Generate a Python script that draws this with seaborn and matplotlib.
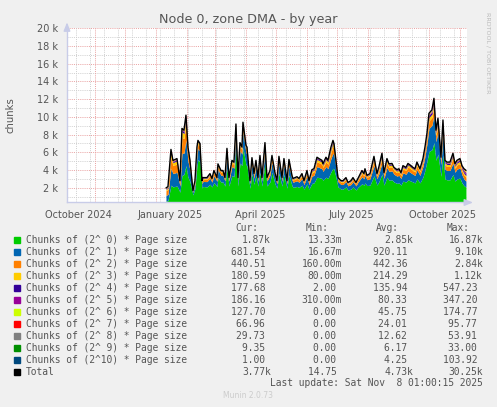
import numpy as np
import pandas as pd
import matplotlib
matplotlib.use('Agg')
import matplotlib.pyplot as plt
import matplotlib.dates as mdates
from matplotlib.patches import Rectangle
import seaborn as sns

start = pd.Timestamp('2025-01-11')
days = [0, 2, 5, 7, 11, 12, 14, 16, 18, 20,
        22, 24, 26, 27, 29, 31, 32, 34, 36, 37,
        41, 44, 46, 48, 51, 52, 55, 57, 59, 61,
        63, 66, 68, 70, 72, 74, 76, 77, 80, 81,
        84, 86, 88, 90, 92, 94, 96, 99, 101, 104,
        106, 109, 111, 113, 116, 118, 121, 123, 126, 127,
        131, 133, 136, 138, 141, 143, 146, 148, 151, 153,
        156, 157, 160, 162, 165, 167, 168, 170, 172, 175,
        177, 180, 182, 185, 187, 190, 192, 196, 198, 199,
        201, 204, 208, 211, 213, 216, 218, 221, 223, 226,
        228, 231, 233, 235, 237, 240, 242, 245, 247, 249,
        251, 254, 257, 259, 261, 263, 266, 268, 270, 272,
        275, 277, 279, 281, 284, 287, 289, 291, 294, 296, 298, 300]

o0 = [500, 550, 2300, 2100, 2200, 2000, 1500, 3400, 3500, 4500,
      3200, 2700, 1700, 1200, 1900, 4500, 5200, 4900, 1950, 2150,
      2100, 2400, 2100, 2600, 2150, 3150, 2650, 2650, 2200, 4200,
      2200, 3400, 3250, 6400, 2200, 4800, 4500, 6500, 4600, 4500,
      1950, 3600, 2400, 3400, 2200, 3750, 2200, 4800, 2200, 2650,
      3750, 2450, 1950, 3650, 2200, 3500, 1950, 3450, 2250, 2050,
      2150, 2050, 2300, 1850, 2450, 1850, 2500, 2550, 3200, 3150,
      3050, 2850, 3200, 3050, 3800, 4200, 4100, 3200, 2100, 1850,
      1850, 2100, 1750, 1850, 2100, 1750, 2050, 2450, 2300, 2550,
      2250, 2300, 3350, 2300, 2700, 3550, 2300, 3200, 2850, 2900,
      2650, 2500, 2550, 2300, 2750, 2650, 2900, 2750, 2650, 2550,
      3000, 2550, 3200, 4000, 5000, 6100, 6300, 7100, 5100, 5800,
      3300, 5700, 3000, 2900, 2900, 3500, 2755, 3000, 3100, 2550, 2250, 2070]
o1 = [650, 700, 1900, 1500, 1550, 1250, 700, 2500, 2400, 2900,
      1800, 1300, 620, 280, 520, 1200, 1250, 1200, 500, 560,
      600, 680, 540, 760, 580, 900, 760, 760, 560, 1300,
      560, 1000, 960, 1700, 560, 1400, 1300, 1800, 1350, 1300,
      500, 1050, 680, 1000, 560, 1100, 560, 1400, 560, 760,
      1100, 720, 500, 1100, 560, 1050, 500, 1020, 660, 580,
      640, 580, 720, 520, 800, 520, 820, 850, 1200, 1150,
      1100, 1000, 1200, 1100, 1500, 1700, 1600, 1050, 600, 520,
      520, 600, 470, 520, 600, 470, 580, 800, 720, 850,
      660, 720, 1150, 720, 900, 1250, 750, 1100, 1000, 1000,
      880, 820, 850, 750, 930, 880, 1000, 930, 880, 850,
      1020, 850, 1200, 1550, 1950, 2600, 2750, 3100, 2100, 2500,
      1300, 2450, 1100, 1050, 1050, 1280, 1000, 1100, 1150, 900, 750, 682]
o2 = [520, 560, 1300, 900, 950, 800, 400, 1800, 1650, 1800,
      1000, 700, 300, 120, 230, 550, 550, 540, 210, 250,
      260, 300, 240, 340, 250, 400, 340, 340, 240, 580,
      240, 430, 420, 650, 240, 550, 500, 650, 520, 500,
      210, 460, 300, 430, 240, 480, 240, 550, 240, 340,
      480, 320, 210, 470, 240, 450, 210, 440, 290, 250,
      270, 250, 330, 240, 380, 240, 390, 400, 550, 530,
      510, 460, 550, 510, 700, 780, 730, 480, 260, 240,
      240, 260, 210, 240, 260, 210, 250, 380, 330, 400,
      290, 330, 550, 330, 420, 580, 350, 520, 460, 460,
      410, 390, 400, 350, 440, 410, 460, 440, 410, 400,
      480, 400, 450, 530, 630, 850, 880, 980, 680, 800,
      440, 780, 480, 460, 460, 560, 450, 480, 500, 450, 440, 441]
o3 = [150, 160, 450, 330, 350, 280, 120, 600, 570, 600,
      380, 250, 110, 50, 90, 220, 220, 220, 80, 100,
      105, 120, 90, 140, 100, 160, 130, 130, 90, 230,
      90, 170, 165, 260, 90, 210, 190, 270, 200, 190,
      80, 180, 120, 170, 90, 190, 90, 210, 90, 130,
      190, 125, 80, 190, 90, 180, 80, 175, 115, 100,
      110, 100, 140, 100, 170, 100, 180, 185, 260, 250,
      240, 215, 260, 240, 320, 360, 330, 210, 105, 100,
      100, 105, 90, 100, 105, 90, 100, 170, 140, 185,
      115, 140, 250, 140, 190, 270, 160, 240, 215, 215,
      190, 180, 185, 160, 200, 190, 215, 200, 190, 185,
      220, 185, 200, 230, 270, 380, 390, 430, 300, 350,
      190, 340, 230, 220, 220, 270, 220, 230, 240, 200, 190, 181]
o4 = [60, 70, 170, 120, 120, 90, 40, 200, 190, 220,
      130, 90, 40, 18, 35, 80, 80, 80, 35, 50,
      50, 60, 42, 65, 45, 60, 45, 45, 40, 90,
      40, 65, 65, 110, 40, 85, 75, 110, 80, 75,
      35, 70, 60, 65, 40, 80, 40, 85, 40, 45,
      80, 50, 35, 80, 40, 75, 35, 75, 50, 42,
      45, 42, 60, 50, 80, 50, 85, 90, 130, 125,
      120, 105, 130, 120, 150, 165, 150, 95, 50, 50,
      50, 50, 42, 50, 50, 42, 42, 80, 60, 90,
      50, 60, 125, 60, 95, 135, 75, 120, 105, 105,
      95, 85, 90, 75, 100, 95, 105, 100, 95, 90,
      110, 90, 110, 130, 150, 220, 225, 240, 160, 190,
      105, 185, 130, 125, 125, 150, 130, 130, 140, 150, 170, 178]
o5 = [40, 40, 110, 70, 70, 40, 20, 110, 110, 110,
      55, 35, 18, 7, 15, 30, 30, 35, 15, 22,
      22, 25, 18, 28, 15, 20, 15, 15, 12, 32,
      12, 22, 25, 48, 12, 35, 25, 45, 32, 25,
      15, 25, 25, 22, 12, 30, 12, 35, 12, 15,
      30, 20, 15, 35, 12, 28, 15, 25, 22, 18,
      20, 18, 28, 22, 40, 22, 42, 43, 60, 55,
      50, 45, 60, 50, 70, 80, 50, 40, 22, 22,
      22, 22, 20, 22, 22, 20, 18, 40, 28, 43,
      22, 28, 70, 28, 50, 65, 35, 65, 45, 45,
      45, 42, 43, 35, 45, 45, 45, 45, 45, 43,
      45, 43, 70, 80, 80, 120, 125, 130, 90, 110,
      60, 105, 80, 75, 75, 80, 75, 80, 85, 140, 180, 186]
o6 = [30, 25, 50, 30, 30, 20, 10, 50, 45, 40,
      20, 15, 7, 3, 6, 12, 12, 15, 6, 10,
      8, 9, 6, 10, 6, 6, 5, 5, 4, 12,
      4, 8, 9, 20, 4, 12, 6, 15, 10, 6,
      6, 9, 9, 8, 4, 12, 4, 12, 4, 5,
      12, 10, 6, 14, 4, 10, 6, 9, 8, 6,
      8, 6, 12, 10, 15, 10, 17, 18, 26, 22,
      18, 15, 26, 18, 30, 35, 22, 15, 8, 10,
      10, 8, 9, 10, 8, 9, 6, 15, 12, 18,
      8, 12, 30, 12, 25, 28, 15, 30, 15, 15,
      18, 17, 18, 15, 18, 18, 15, 18, 18, 18,
      15, 18, 40, 45, 40, 70, 70, 60, 40, 55,
      30, 50, 45, 40, 40, 35, 45, 45, 50, 70, 110, 128]
o7 = [15, 12, 25, 15, 15, 10, 5, 20, 20, 18,
      8, 6, 3, 1, 2, 5, 5, 6, 2, 4,
      3, 3, 2, 4, 2, 2, 2, 2, 2, 4,
      2, 3, 4, 7, 2, 4, 2, 6, 4, 2,
      2, 3, 3, 3, 2, 4, 2, 4, 2, 2,
      4, 3, 2, 6, 2, 4, 2, 3, 3, 2,
      3, 2, 5, 4, 7, 4, 8, 8, 12, 10,
      7, 6, 12, 7, 15, 16, 10, 6, 3, 4,
      4, 3, 4, 4, 3, 4, 2, 7, 5, 8,
      3, 5, 14, 5, 10, 12, 7, 13, 6, 6,
      7, 8, 8, 7, 8, 7, 6, 8, 7, 8,
      5, 8, 17, 20, 17, 32, 32, 32, 17, 25,
      14, 22, 18, 16, 16, 15, 16, 18, 20, 25, 40, 67]
o8 = [8, 7, 14, 8, 8, 5, 3, 12, 10, 7,
      4, 2, 1, 1, 1, 2, 2, 3, 1, 2,
      1, 1, 1, 2, 1, 1, 1, 1, 1, 1,
      1, 1, 1, 3, 1, 2, 1, 2, 2, 1,
      1, 1, 1, 1, 1, 2, 1, 2, 1, 1,
      2, 1, 1, 3, 1, 1, 1, 1, 1, 1,
      2, 1, 2, 2, 4, 2, 4, 4, 6, 5,
      3, 2, 6, 3, 8, 8, 5, 2, 1, 2,
      2, 1, 2, 2, 1, 2, 1, 4, 2, 4,
      1, 2, 6, 2, 5, 5, 4, 6, 2, 2,
      3, 4, 4, 4, 4, 3, 2, 4, 3, 4,
      2, 4, 8, 9, 8, 15, 15, 15, 8, 11,
      6, 10, 9, 7, 7, 6, 6, 9, 9, 10, 14, 30]
o9 = [4, 4, 6, 4, 4, 3, 1, 5, 3, 3,
      2, 1, 1, 0, 1, 1, 1, 1, 1, 1,
      1, 1, 1, 1, 1, 1, 1, 1, 1, 1,
      1, 1, 1, 1, 1, 1, 1, 1, 1, 1,
      1, 1, 1, 1, 1, 1, 1, 1, 1, 1,
      1, 1, 1, 1, 1, 1, 1, 1, 1, 1,
      1, 1, 1, 1, 2, 1, 2, 2, 3, 3,
      1, 1, 3, 1, 4, 4, 2, 1, 1, 1,
      1, 1, 1, 1, 1, 1, 1, 2, 1, 2,
      1, 1, 3, 1, 3, 3, 2, 3, 1, 1,
      1, 2, 2, 2, 2, 1, 1, 2, 1, 2,
      2, 2, 3, 4, 3, 7, 7, 7, 3, 5,
      3, 5, 5, 4, 4, 3, 2, 5, 4, 4, 5, 9]
o10 = [3, 2, 5, 3, 3, 2, 1, 3, 2, 2,
       1, 1, 0, 0, 0, 0, 0, 0, 0, 1,
       0, 1, 0, 0, 0, 0, 1, 1, 0, 0,
       0, 0, 0, 1, 0, 1, 0, 1, 1, 0,
       0, 1, 1, 0, 0, 1, 0, 1, 0, 1,
       1, 0, 0, 1, 0, 1, 0, 1, 0, 0,
       1, 0, 2, 1, 2, 1, 2, 0, 3, 0,
       1, 1, 3, 1, 3, 2, 1, 1, 0, 1,
       1, 0, 2, 1, 0, 2, 0, 2, 2, 0,
       0, 2, 2, 2, 2, 2, 2, 3, 1, 1,
       1, 2, 0, 2, 3, 1, 1, 3, 1, 0,
       1, 0, 2, 2, 2, 6, 6, 6, 2, 4,
       2, 3, 3, 3, 3, 1, 1, 3, 2, 1, 1, 1]

series = [o0, o1, o2, o3, o4, o5, o6, o7, o8, o9, o10]
names = ['Chunks of (2^%2d) * Page size' % i for i in range(11)] + ['Total']
colors = ['#00CC00', '#0066B3', '#FF8000', '#FFCC00', '#330099', '#990099',
          '#CCFF00', '#FF0000', '#808080', '#008F00', '#00487D', '#000000']

cur = ['1.87k', '681.54', '440.51', '180.59', '177.68', '186.16',
       '127.70', '66.96', '29.73', '9.35', '1.00', '3.77k']
vmin = ['13.33m', '16.67m', '160.00m', '80.00m', '2.00', '310.00m',
        '0.00', '0.00', '0.00', '0.00', '0.00', '14.75']
avg = ['2.85k', '920.11', '442.36', '214.29', '135.94', '80.33',
       '45.75', '24.01', '12.62', '6.17', '4.25', '4.73k']
vmax = ['16.87k', '9.10k', '2.84k', '1.12k', '547.23', '347.20',
        '174.77', '95.77', '53.91', '33.00', '103.92', '30.25k']

yticks = [2000, 4000, 6000, 8000, 10000, 12000, 14000, 16000, 18000, 20000]
ytick_labels = ['2 k', '4 k', '6 k', '8 k', '10 k', '12 k', '14 k', '16 k', '18 k', '20 k']
xtick_dates = ['2024-10-15', '2025-01-15', '2025-04-15', '2025-07-15', '2025-10-15']
xtick_labels = ['October 2024', 'January 2025', 'April 2025', 'July 2025', 'October 2025']

# --- figure ---
sns.set_style('white')
plt.rcParams['font.family'] = ['DejaVu Sans']

W, H = 497, 407
fig = plt.figure(figsize=(W / 100, H / 100), dpi=100, facecolor='#F0F0F0')


def fx(x):
    return x / W


def fy(y):
    return 1 - y / H


ax = fig.add_axes([fx(67), fy(202.5), 400 / W, 174.2 / H])
ax.set_facecolor('white')

dates = start + pd.to_timedelta(days, unit='D')
tl0 = pd.Timestamp('2024-10-04 01:00')
tl1 = pd.Timestamp('2025-11-08 01:00')
ax.set_xlim(tl0, tl1)
ax.set_ylim(340, 20000)

major_c = '#e9a0a0'
minor_c = '#cfcfcf'
dot = (0, (1, 1.2))
for v in range(1000, 20001, 2000):
    ax.axhline(v, color=minor_c, lw=0.7, ls=dot, zorder=0)
for v in yticks:
    ax.axhline(v, color=major_c, lw=0.7, ls=dot, zorder=0)
for d in pd.date_range('2024-10-13', tl1, freq='14D'):
    ax.axvline(d, color=minor_c, lw=0.7, ls=dot, zorder=0)
months = pd.date_range('2024-11-01', tl1, freq='MS')
for d in months:
    ax.axvline(d, color=major_c, lw=0.7, ls=dot, zorder=0)

ax.stackplot(dates, *series, colors=colors[:11], linewidth=0, zorder=2)
total = np.sum(np.array(series), axis=0)
sns.lineplot(x=dates, y=total, color='black', linewidth=1.0, ax=ax,
             estimator=None, sort=False, zorder=3)

for side in ['top', 'right']:
    ax.spines[side].set_visible(False)
for side in ['left', 'bottom']:
    ax.spines[side].set_color('#c8cce8')
    ax.spines[side].set_linewidth(1)
ax.annotate('', xy=(0, 1.05), xytext=(0, 0.99), xycoords='axes fraction',
            arrowprops=dict(arrowstyle='-|>,head_length=0.5,head_width=0.2',
                            color='#c8cce8', lw=1), annotation_clip=False)
ax.annotate('', xy=(1.022, 0), xytext=(0.99, 0), xycoords='axes fraction',
            arrowprops=dict(arrowstyle='-|>,head_length=0.5,head_width=0.2',
                            color='#c8cce8', lw=1), annotation_clip=False)

ax.set_yticks(yticks)
ax.set_yticklabels(ytick_labels)
ax.set_xticks(pd.to_datetime(xtick_dates))
ax.set_xticklabels(xtick_labels)
ax.set_xticks(months, minor=True)
ax.tick_params(axis='y', length=2.5, width=0.7, color=major_c, pad=4,
               labelsize=7, labelcolor='#555555')
ax.tick_params(axis='x', which='major', length=0, pad=5.5,
               labelsize=7, labelcolor='#555555')
ax.tick_params(axis='x', which='minor', length=2.5, width=0.7, color=major_c)
ax.set_xlabel('')
ax.set_ylabel('')

fig.text(fx(248), fy(19), 'Node 0, zone DMA - by year', ha='center', va='center',
         fontsize=9.2, color='#555555')
fig.text(fx(11), fy(115), 'chunks', rotation=90, ha='center', va='center',
         fontsize=7.3, color='#555555')
fig.text(fx(488), fy(53), 'RRDTOOL / TOBI OETIKER', rotation=270, ha='center',
         va='center', fontsize=4.6, color='#bbbbbb')

# --- legend ---
mono = dict(family='DejaVu Sans Mono', fontsize=6.9, color='#555555', va='center')
for x, h in zip([235, 306, 376, 447], ['Cur:', 'Min:', 'Avg:', 'Max:']):
    fig.text(fx(x), fy(227.7), h, ha='left', **mono)


def fmt(s):
    return s if s[-1] in 'km' else s + ' '


for i, name in enumerate(names):
    y = 239.7 + 12 * i
    fig.patches.append(Rectangle((fx(14), fy(y + 3)), 6 / W, 6 / H,
                                 transform=fig.transFigure, color=colors[i]))
    fig.text(fx(26.3), fy(y), name, ha='left', **mono)
    for x, col in zip([271, 342, 413, 483], [cur, vmin, avg, vmax]):
        fig.text(fx(x), fy(y), fmt(col[i]), ha='right', **mono)

fig.text(fx(483), fy(383.3), 'Last update: Sat Nov  8 01:00:15 2025', ha='right', **mono)
fig.text(fx(248), fy(396), 'Munin 2.0.73', ha='center', va='center',
         fontsize=5.5, color='#cccccc')

fig.savefig('out.png', dpi=100, facecolor=fig.get_facecolor())
